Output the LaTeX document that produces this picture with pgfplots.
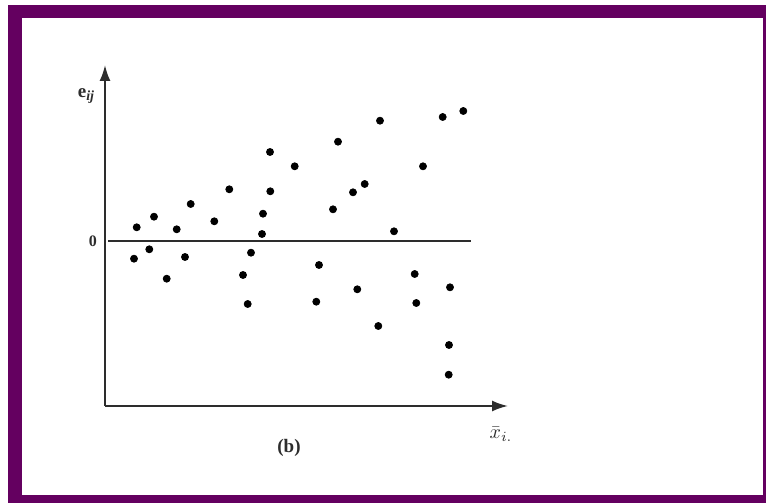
\documentclass[border=0pt]{standalone}
\usepackage{fontspec}
\setmainfont{Liberation Serif}
\usepackage{pgfplots}
\pgfplotsset{compat=1.18}
\usetikzlibrary{arrows.meta}
\definecolor{frame}{RGB}{100,0,96}
\definecolor{ink}{RGB}{45,45,45}
\pgfplotstableread{
x y
136.7 13.7
154 24.3
176.7 11.7
190.7 37
214.3 19.7
229.3 51.7
270 89
270.3 49.7
263 27.3
262 7
294.7 74.7
338 99.3
333 31.7
353 48.7
364.7 57
380 120.3
423 74.7
394 9.7
442.7 124
463.3 130
134 -17.7
149.3 -8.3
185 -16
166.7 -37.7
251 -11.7
243 -34
247.7 -63
319 -24
316.3 -60.7
357.3 -48.3
378.3 -85
414.7 -33
416.3 -62
450 -46.3
449 -104
448.7 -133.7
}\residuals
\begin{document}
\begin{tikzpicture}
\useasboundingbox (0,0) rectangle (383pt,251.5pt);
\fill[white] (0,0) rectangle (383pt,251.5pt);
\fill[frame] (4pt,0pt) rectangle (383pt,249pt);
\fill[white] (11pt,4pt) rectangle (381.5pt,242.5pt);
\begin{axis}[
  scale only axis,
  width=201.5pt, height=170.5pt,
  at={(52.5pt,48.5pt)}, anchor=south west,
  xmin=105, xmax=508, ymin=-165, ymax=176,
  axis lines=left,
  axis line style={-{Latex[length=8pt,width=5.5pt]}, line width=1pt, ink},
  xtick=\empty, ytick={0}, yticklabels={0},
  major tick length=0pt,
  yticklabel style={font=\fontsize{8}{9}\selectfont\bfseries, ink, xshift=-0.5pt},
  /pgf/number format/assume math mode=true,
  clip=false,
]
\addplot[line width=0.9pt, ink] coordinates {(108,0) (471,0)};
\addplot[only marks, mark=*, mark size=1.75pt, black] table[x=x,y=y] {\residuals};
\node[ink] at (axis cs:86,145) {\fontsize{9.5}{10}\selectfont\textbf{e}\raisebox{-0.45ex}{\fontsize{7}{8}\selectfont\bfseries\itshape ij}};
\node[ink] at (axis cs:501,-193) {\fontsize{10}{11}\selectfont$\bar{x}_{i.}$};
\node[ink] at (axis cs:289,-207) {\fontsize{9.5}{11}\selectfont\textbf{(b)}};
\end{axis}
\end{tikzpicture}
\end{document}
